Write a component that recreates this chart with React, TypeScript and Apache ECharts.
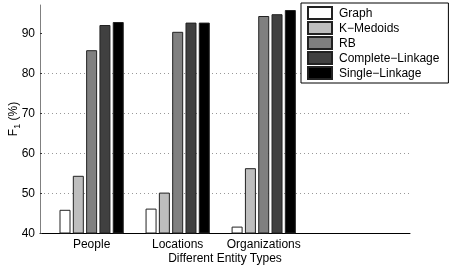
import React, { useEffect, useRef } from "react";
import * as echarts from "echarts";

const categories = ["People", "Locations", "Organizations"];
const categoryPositions = [1, 2, 3];
const seriesNames = ["Graph", "K−Medoids", "RB", "Complete−Linkage", "Single−Linkage"];
const graphValues = [45.8, 46.1, 41.6];
const kMedoidsValues = [54.3, 50.1, 56.2];
const rbValues = [85.7, 90.3, 94.25];
const completeLinkageValues = [92.0, 92.6, 94.7];
const singleLinkageValues = [92.75, 92.6, 95.75];
const yTicks = [40, 50, 60, 70, 80, 90];
const seriesColors = ["#ffffff", "#bebebe", "#808080", "#404040", "#000000"];

export default function App() {
  const ref = useRef<HTMLDivElement>(null);
  useEffect(() => {
    if (!ref.current) return;
    const chart = echarts.init(ref.current, undefined, { renderer: "svg" });
    const allValues = [graphValues, kMedoidsValues, rbValues, completeLinkageValues, singleLinkageValues];
    const font = "Liberation Sans, Arial, Helvetica, sans-serif";
    chart.setOption({
      animation: false,
      textStyle: { fontFamily: font },
      grid: { left: 40, right: 39, top: 5, bottom: 33, containLabel: false, outerBoundsMode: "none" },
      legend: {
        orient: "vertical",
        left: 301,
        top: 3,
        padding: [3, 9, 3, 6],
        itemWidth: 24,
        itemHeight: 12,
        itemGap: 1,
        icon: "rect",
        backgroundColor: "#ffffff",
        borderColor: "#000000",
        borderWidth: 1,
        textStyle: { fontFamily: font, fontSize: 12, color: "#000", padding: [0, 0, 0, 2] },
        data: seriesNames,
      },
      xAxis: {
        type: "value",
        min: 0.4,
        max: 4.7,
        name: "Different Entity Types",
        nameLocation: "middle",
        nameGap: 19,
        nameMoveOverlap: false,
        nameTextStyle: { fontFamily: font, fontSize: 12, color: "#000" },
        axisLine: { show: true, lineStyle: { color: "#000", width: 1 } },
        axisTick: { show: false },
        splitLine: { show: false },
        axisLabel: {
          customValues: categoryPositions,
          formatter: (v: number) => categories[Math.round(v) - 1] ?? "",
          fontFamily: font,
          fontSize: 12,
          color: "#000",
          margin: 5,
        },
      },
      yAxis: {
        type: "value",
        min: 40,
        max: 97,
        interval: 10,
        name: "{a|F}{b|1}{a| (%)}",
        nameLocation: "middle",
        nameGap: 19,
        nameMoveOverlap: false,
        nameRotate: 90,
        nameTextStyle: {
          fontFamily: font,
          color: "#000",
          rich: {
            a: { fontFamily: font, fontSize: 12, color: "#000" },
            b: { fontFamily: font, fontSize: 9, color: "#000", padding: [7, 0, 0, 0] },
          },
        },
        axisLine: { show: true, lineStyle: { color: "#808080", width: 1 } },
        axisTick: { show: true, inside: true, length: 2, lineStyle: { color: "#333" }, customValues: yTicks },
        axisLabel: {
          customValues: yTicks,
          fontFamily: font,
          fontSize: 12,
          color: "#000",
          margin: 5,
        },
        splitLine: {
          show: true,
          showMinLine: false,
          showMaxLine: false,
          lineStyle: { color: "#999", width: 1, type: [1, 3] },
        },
      },
      series: seriesNames.map((name, i) => ({
        name,
        type: "bar",
        barWidth: 11,
        barGap: "21%",
        data: categoryPositions.map((x, j) => [x, allValues[i][j]]),
        itemStyle: { color: seriesColors[i], borderColor: "#222", borderWidth: 1 },
      })),
    });
    return () => chart.dispose();
  }, []);
  return (
    <div
      ref={ref}
      style={{ position: "fixed", left: 0, top: 0, width: 449, height: 266 }}
    />
  );
}
